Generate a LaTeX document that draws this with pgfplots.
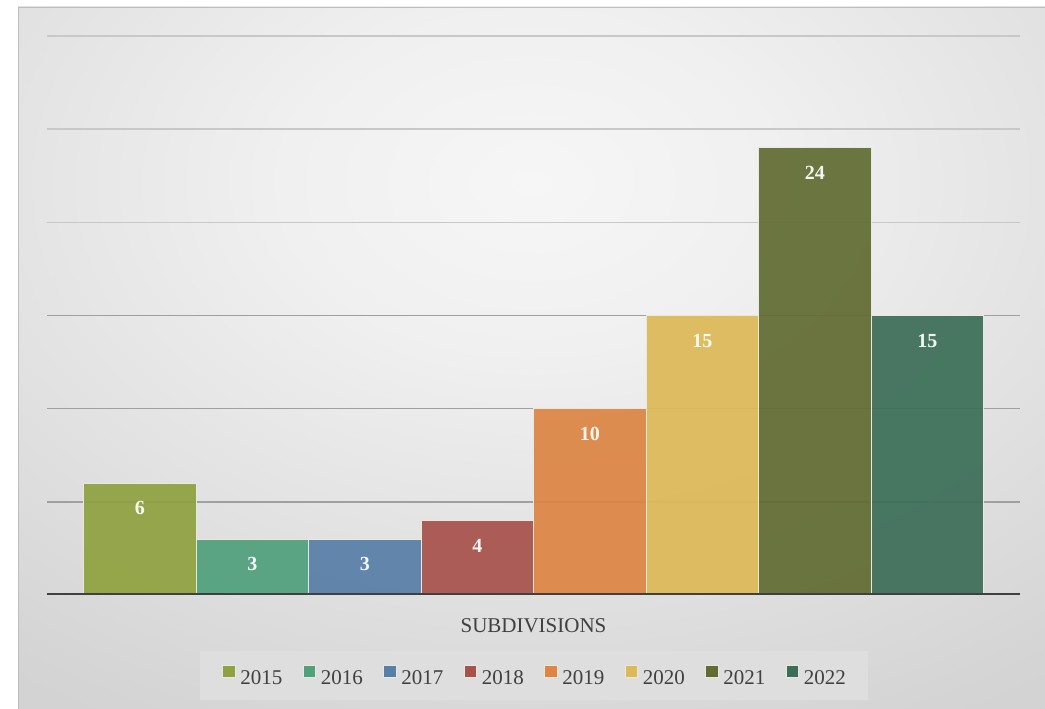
\documentclass[border=0pt]{standalone}
\usepackage{fontspec}
\setmainfont{Liberation Serif}
\usepackage{pgfplots}
\pgfplotsset{compat=1.18}

\definecolor{c15}{RGB}{143,161,64}
\definecolor{c16}{RGB}{80,160,125}
\definecolor{c17}{RGB}{88,127,167}
\definecolor{c18}{RGB}{168,82,76}
\definecolor{c19}{RGB}{221,133,68}
\definecolor{c20}{RGB}{221,185,88}
\definecolor{c21}{RGB}{98,108,50}
\definecolor{c22}{RGB}{60,110,88}
\definecolor{bg0}{RGB}{246,246,246}
\definecolor{bg1}{RGB}{240,240,240}
\definecolor{bg2}{RGB}{212,212,212}
\definecolor{bg3}{RGB}{196,196,196}
\definecolor{framegray}{RGB}{190,190,190}
\definecolor{gridA}{RGB}{160,160,160}
\definecolor{gridB}{RGB}{200,200,200}
\definecolor{axisdark}{RGB}{64,64,64}
\definecolor{labelgray}{RGB}{64,64,64}
\definecolor{legendbg}{RGB}{222,222,222}
\definecolor{baredge}{RGB}{232,232,222}

% light spot in the upper middle, darker towards the edges
\pgfdeclareradialshading{chartbg}{\pgfpointorigin}{%
  color(0bp)=(bg0); color(6bp)=(bg1); color(21bp)=(bg2); color(36bp)=(bg3); color(50bp)=(bg3)}

\begin{document}
\begin{tikzpicture}
\useasboundingbox (0,0) rectangle (1045bp,709bp);
\fill[white] (0,0) rectangle (1045bp,709bp);
\begin{scope}
  \clip (18bp,0) rectangle (1045bp,702bp);
  \shade[shading=chartbg] (-496bp,-176bp) rectangle (1558bp,1228bp);
\end{scope}
\draw[framegray, line width=1.2bp] (18.6bp,0) -- (18.6bp,701.4bp) -- (1045bp,701.4bp);

\begin{axis}[
  at={(47bp,114bp)}, anchor=south west,
  scale only axis, width=973bp, height=559bp,
  ybar=0pt, bar width=112.5bp,
  xmin=-486.5, xmax=486.5, ymin=0, ymax=30,
  axis line style={draw=none},
  major tick length=0pt,
  xtick={0}, xticklabels={SUBDIVISIONS},
  xticklabel style={anchor=base, yshift=-37bp, text=labelgray,
    font=\fontsize{21bp}{25bp}\selectfont},
  ytick={5,10,15}, yticklabels={},
  ymajorgrids,
  major grid style={line width=1.5bp, gridA},
  extra y ticks={20,25,30}, extra y tick labels={},
  extra y tick style={grid=major, major grid style={line width=1.5bp, gridB}},
  nodes near coords={\pgfmathprintnumber[assume math mode=true]{\pgfplotspointmeta}},
  nodes near coords align=below,
  every node near coord/.append style={yshift=-18bp, inner sep=0pt, text=white,
    font=\bfseries\fontsize{20bp}{24bp}\selectfont},
  every axis plot/.append style={draw=baredge, line width=1bp, fill opacity=0.93,
    legend image code/.code={\draw[##1, fill opacity=1, line width=0.8bp]
      (0bp,0.9bp) rectangle (12.5bp,13.4bp);}},
  legend columns=-1,
  legend style={at={(rel axis cs:0.5005,-0.144)}, anchor=center,
    draw=none, fill=legendbg, inner xsep=22bp, inner ysep=14bp,
    font=\fontsize{21bp}{25bp}\selectfont, text=labelgray,
    nodes={inner sep=0pt},
    /tikz/every odd column/.append style={column sep=5bp},
    /tikz/every even column/.append style={column sep=20.2bp}},
]
\addplot[fill=c15] coordinates {(0,6)};
\addplot[fill=c16] coordinates {(0,3)};
\addplot[fill=c17] coordinates {(0,3)};
\addplot[fill=c18] coordinates {(0,4)};
\addplot[fill=c19] coordinates {(0,10)};
\addplot[fill=c20] coordinates {(0,15)};
\addplot[fill=c21] coordinates {(0,24)};
\addplot[fill=c22] coordinates {(0,15)};
\legend{2015,2016,2017,2018,2019,2020,2021,2022}
\draw[axisdark, line width=3bp] (rel axis cs:0,0) -- (rel axis cs:1,0);
\end{axis}
\end{tikzpicture}
\end{document}
